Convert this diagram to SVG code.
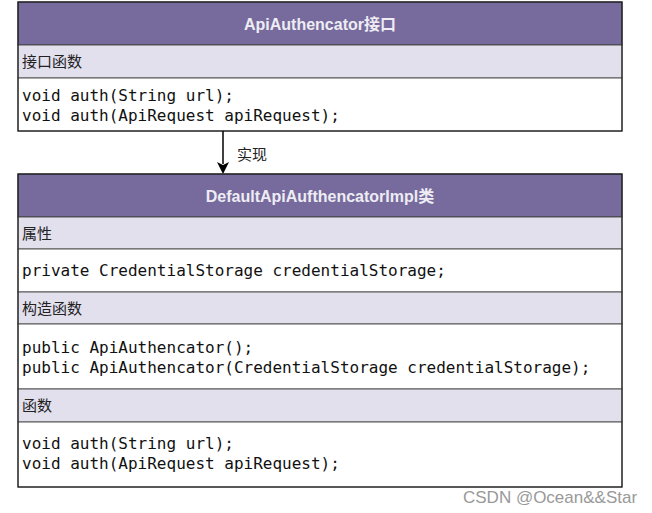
<svg xmlns="http://www.w3.org/2000/svg" width="652" height="513" viewBox="0 0 652 513">
<style>
.hdr{fill:#766b9c;stroke:#222;stroke-width:1}
.band{fill:#e3e0ee;stroke:#555;stroke-width:1}
.body{fill:#fff;stroke:#555;stroke-width:1}
.outer{fill:none;stroke:#222;stroke-width:1.2}
.title{font-family:"Liberation Sans","Noto Sans CJK SC",sans-serif;font-weight:bold;font-size:16px;fill:#eeecf4;text-anchor:middle}
.lbl{font-family:"Liberation Sans","Noto Sans CJK SC",sans-serif;font-size:15px;fill:#222}
.code{font-family:"DejaVu Sans Mono",monospace;font-size:16px;fill:#111}
.wm{font-family:"Liberation Sans",sans-serif;font-size:17px;fill:#999}
</style>
<g id="iface">
<rect class="hdr" x="18" y="2" width="604" height="43"/>
<text class="title" x="320" y="30">ApiAuthencator接口</text>
<rect class="band" x="18" y="45" width="604" height="33"/>
<text class="lbl" x="22" y="67">接口函数</text>
<rect class="body" x="18" y="78" width="604" height="53"/>
<text class="code" x="22" y="101">void auth(String url);</text>
<text class="code" x="22" y="121">void auth(ApiRequest apiRequest);</text>
<rect class="outer" x="18" y="2" width="604" height="129"/>
</g>
<g id="connectors">
<line x1="223" y1="131" x2="223" y2="164" stroke="#000" stroke-width="1.5"/>
<path d="M217,162 L223,174 L229,162 L223,165 Z" fill="#000"/>
<text class="lbl" x="237" y="160">实现</text>
</g>
<g id="impl">
<rect class="hdr" x="18" y="174" width="604" height="43"/>
<text class="title" x="320" y="202">DefaultApiAufthencatorImpl类</text>
<rect class="band" x="18" y="217" width="604" height="32"/>
<text class="lbl" x="22" y="239">属性</text>
<rect class="body" x="18" y="249" width="604" height="43"/>
<text class="code" x="22" y="276">private CredentialStorage credentialStorage;</text>
<rect class="band" x="18" y="292" width="604" height="32"/>
<text class="lbl" x="22" y="314">构造函数</text>
<rect class="body" x="18" y="324" width="604" height="65"/>
<text class="code" x="22" y="353">public ApiAuthencator();</text>
<text class="code" x="22" y="373">public ApiAuthencator(CredentialStorage credentialStorage);</text>
<rect class="band" x="18" y="389" width="604" height="33"/>
<text class="lbl" x="22" y="411">函数</text>
<rect class="body" x="18" y="422" width="604" height="65"/>
<text class="code" x="22" y="449">void auth(String url);</text>
<text class="code" x="22" y="469">void auth(ApiRequest apiRequest);</text>
<rect class="outer" x="18" y="174" width="604" height="313"/>
</g>
<text class="wm" x="463" y="503">CSDN @Ocean&amp;&amp;Star</text>
</svg>
